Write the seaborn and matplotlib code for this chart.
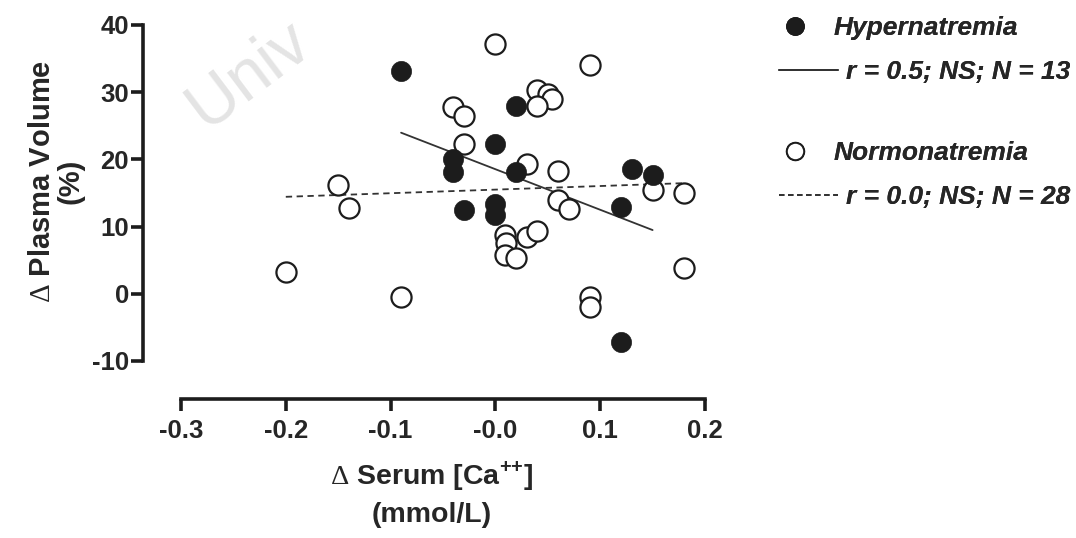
import numpy as np
import matplotlib
matplotlib.use("Agg")
import matplotlib.pyplot as plt
from matplotlib.lines import Line2D
import seaborn as sns

# Change in serum calcium (mmol/L) vs change in plasma volume (%)
hyper_ca = [-0.09, -0.04, -0.04, -0.03, 0.00, 0.00, 0.00, 0.02, 0.02, 0.13, 0.15, 0.12, 0.12]
hyper_pv = [33.2, 20.1, 18.1, 12.5, 22.3, 13.4, 11.8, 27.9, 18.1, 18.5, 17.7, 12.9, -7.2]

normo_ca = [-0.20, -0.15, -0.14, -0.09, -0.04, -0.03, -0.03, 0.00, 0.009, 0.01, 0.009,
            0.02, 0.03, 0.04, 0.03, 0.04, 0.05, 0.054, 0.04, 0.06, 0.06, 0.07, 0.09,
            0.09, 0.09, 0.15, 0.18, 0.18]
normo_pv = [3.3, 16.2, 12.7, -0.5, 27.8, 26.4, 22.3, 37.2, 8.7, 7.6, 5.7,
            5.3, 8.4, 9.3, 19.3, 30.3, 29.8, 29.0, 27.9, 18.3, 13.9, 12.6, 34.1,
            -0.5, -2.0, 15.4, 15.0, 3.9]

x_ticks = [-0.3, -0.2, -0.1, 0.0, 0.1, 0.2]
x_ticklabels = ["-0.3", "-0.2", "-0.1", "-0.0", "0.1", "0.2"]
y_ticks = [-10, 0, 10, 20, 30, 40]
y_ticklabels = ["-10", "0", "10", "20", "30", "40"]

legend_labels = ["Hypernatremia", "r = 0.5; NS; N = 13",
                 "Normonatremia", "r = 0.0; NS; N = 28"]

sns.set_theme(style="ticks")
plt.rcParams["font.family"] = ["Liberation Sans", "DejaVu Sans"]
plt.rcParams["mathtext.fontset"] = "custom"
plt.rcParams["mathtext.rm"] = "Liberation Serif"
plt.rcParams["mathtext.sf"] = "Liberation Sans:bold"

INK = "#1c1c1c"
W, H = 1076, 538
fig = plt.figure(figsize=(W / 100, H / 100), dpi=100)
ax = fig.add_axes([181 / W, 1 - 361 / H, 524 / W, 336 / H])

# faint background watermark
fig.text(205 / W, 1 - 130 / H, "Univ", rotation=37, rotation_mode="anchor",
         fontsize=49, color="#e4e4e4", ha="left", va="baseline", zorder=0)

# regression lines (drawn beneath the markers)
sns.regplot(x=hyper_ca, y=hyper_pv, ax=ax, scatter=False, ci=None, truncate=True,
            line_kws=dict(color="#333333", lw=1.3, zorder=1))
sns.regplot(x=normo_ca, y=normo_pv, ax=ax, scatter=False, ci=None, truncate=True,
            line_kws=dict(color="#333333", lw=1.3, ls=(0, (3.5, 2.5)), zorder=1))

sns.scatterplot(x=normo_ca, y=normo_pv, ax=ax, s=210, color="white",
                edgecolor=INK, linewidth=1.6, zorder=3, clip_on=False)
sns.scatterplot(x=hyper_ca, y=hyper_pv, ax=ax, s=210, color=INK,
                edgecolor=INK, linewidth=0.5, zorder=4, clip_on=False)

ax.set_xlim(-0.3, 0.2)
ax.set_ylim(-10, 40)
ax.set_xticks(x_ticks)
ax.set_xticklabels(x_ticklabels)
ax.set_yticks(y_ticks)
ax.set_yticklabels(y_ticklabels)

for side in ("top", "right"):
    ax.spines[side].set_visible(False)
for side in ("left", "bottom"):
    ax.spines[side].set_linewidth(2.6)
    ax.spines[side].set_color(INK)
ax.spines["left"].set_position(("outward", 27.4))
ax.spines["bottom"].set_position(("outward", 27.4))
ax.spines["left"].set_bounds(-10, 40)
ax.spines["bottom"].set_bounds(-0.3, 0.2)

ax.tick_params(axis="both", width=2.6, length=8.5, color=INK, labelsize=18.5)
ax.tick_params(axis="y", pad=1.5)
ax.tick_params(axis="x", pad=6)
for lab in ax.get_xticklabels() + ax.get_yticklabels():
    lab.set_fontweight("bold")

ax.set_ylabel("$\\Delta$ Plasma Volume\n(%)", fontsize=21, fontweight="bold",
              linespacing=1.05)
ax.yaxis.set_label_coords((85 - 181) / 524, (361 - 181) / 336)
ax.set_xlabel("$\\Delta$ Serum [Ca$^{\\mathsf{+}\\mathsf{+}}$]\n(mmol/L)", fontsize=20.5,
              fontweight="bold", linespacing=1.45)
ax.xaxis.set_label_coords((432 - 181) / 524, (361 - 459) / 336)
ax.xaxis.label.set_va("top")

# legend: one row per entry so each row sits at its own height
leg_font = dict(size=19, weight="bold", style="italic")
rows = [
    (Line2D([], [], ls="none", marker="o", ms=12.5, mfc=INK, mec=INK),
     legend_labels[0], 782, 28, 1.0, 0.95),
    (Line2D([], [], color="#333333", lw=1.3),
     legend_labels[1], 779, 72, 2.25, 0.3),
    (Line2D([], [], ls="none", marker="o", ms=12.5, mfc="white", mec=INK, mew=1.4),
     legend_labels[2], 782, 153, 1.0, 0.95),
    (Line2D([], [], color="#333333", lw=1.3, ls=(0, (3, 2))),
     legend_labels[3], 779, 197, 2.25, 0.3),
]
for handle, label, x0, yc, hl, pad in rows:
    leg = fig.legend([handle], [label], loc="center left",
                     bbox_to_anchor=(x0 / W, 1 - yc / H), frameon=False,
                     prop=leg_font, handlelength=hl, handletextpad=pad,
                     borderpad=0, borderaxespad=0)
    fig.add_artist(leg)

fig.savefig("out.png", dpi=100)
